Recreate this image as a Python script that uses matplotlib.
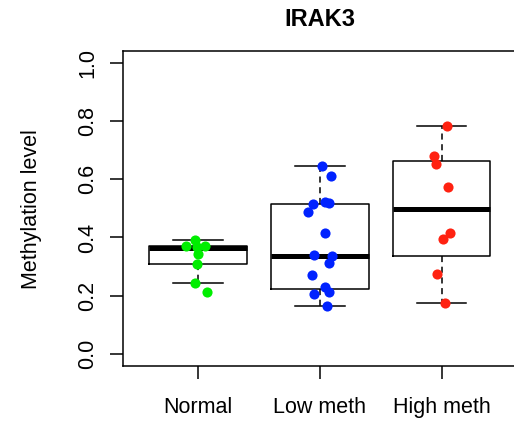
import matplotlib
matplotlib.use("Agg")
import matplotlib.pyplot as plt

plt.rcParams['font.family'] = ['Liberation Sans', 'DejaVu Sans']

# Groups and their colours
groups = ["Normal", "Low meth", "High meth"]
colors = ["#00ee00", "#0022ff", "#ff2211"]

# Box statistics per group
whislo = [0.245, 0.166, 0.176]
q1 = [0.308, 0.222, 0.336]
med = [0.363, 0.338, 0.498]
q3 = [0.371, 0.515, 0.664]
whishi = [0.391, 0.645, 0.783]

# Individual samples (methylation level) and their horizontal jitter
normal_vals = [0.391, 0.372, 0.372, 0.368, 0.343, 0.308, 0.245, 0.213]
normal_jit = [-0.03, -0.10, 0.06, -0.01, 0.00, -0.01, -0.025, 0.07]
low_vals = [0.645, 0.611, 0.521, 0.517, 0.514, 0.486, 0.416, 0.340,
            0.336, 0.311, 0.271, 0.229, 0.214, 0.206, 0.166]
low_jit = [0.014, 0.088, 0.041, 0.076, -0.06, -0.096, 0.041, -0.047,
           0.096, 0.076, -0.063, 0.041, 0.074, -0.047, 0.055]
high_vals = [0.783, 0.680, 0.651, 0.574, 0.416, 0.395, 0.275, 0.176]
high_jit = [0.041, -0.063, -0.049, 0.057, 0.068, 0.013, -0.036, 0.03]

yticks = [0.0, 0.2, 0.4, 0.6, 0.8, 1.0]

W, H = 514, 424
fig = plt.figure(figsize=(W / 100, H / 100), dpi=100)
left, right, top, bottom = 122.7, 517.0, 51.0, 365.7
ax = fig.add_axes([left / W, 1 - bottom / H, (right - left) / W, (bottom - top) / H])

stats = []
for i in range(3):
    stats.append(dict(med=med[i], q1=q1[i], q3=q3[i], whislo=whislo[i],
                      whishi=whishi[i], fliers=[], label=groups[i]))

ax.bxp(stats, positions=[1, 2, 3], widths=0.8, showfliers=False,
       boxprops=dict(color="black", linewidth=1.1),
       medianprops=dict(color="black", linewidth=3.6, solid_capstyle="butt"),
       whiskerprops=dict(color="black", linewidth=1.1, linestyle=(0, (4, 3))),
       capprops=dict(color="black", linewidth=1.1),
       capwidths=0.41)

samples = [(normal_vals, normal_jit), (low_vals, low_jit), (high_vals, high_jit)]
for i, (vals, jit) in enumerate(samples):
    xs = [i + 1 + j for j in jit]
    ax.plot(xs, vals, linestyle="none", marker="o", markersize=7.3,
            markerfacecolor=colors[i], markeredgecolor=colors[i],
            markeredgewidth=0, zorder=5)

ax.set_xlim(0.38, 3.62)
ax.set_ylim(-0.04, 1.04)
ax.set_yticks(yticks)
ax.set_yticklabels([f"{v:.1f}" for v in yticks], rotation=90, va="center")
ax.set_xticks([1, 2, 3])
ax.set_xticklabels(groups)
ax.tick_params(axis="both", labelsize=15.5, length=9.6, width=1.1, color="black")
ax.tick_params(axis="y", pad=8)
ax.tick_params(axis="x", pad=13)
for s in ax.spines.values():
    s.set_linewidth(1.1)

fig.text(0.5 * (left + right) / W, 1 - 20 / H, "IRAK3", ha="center", va="center",
         fontsize=17, fontweight="bold")
fig.text(32 / W, 1 - 209 / H, "Methylation level", ha="center", va="center",
         rotation=90, fontsize=15.5)

fig.savefig("out.png", dpi=100)
